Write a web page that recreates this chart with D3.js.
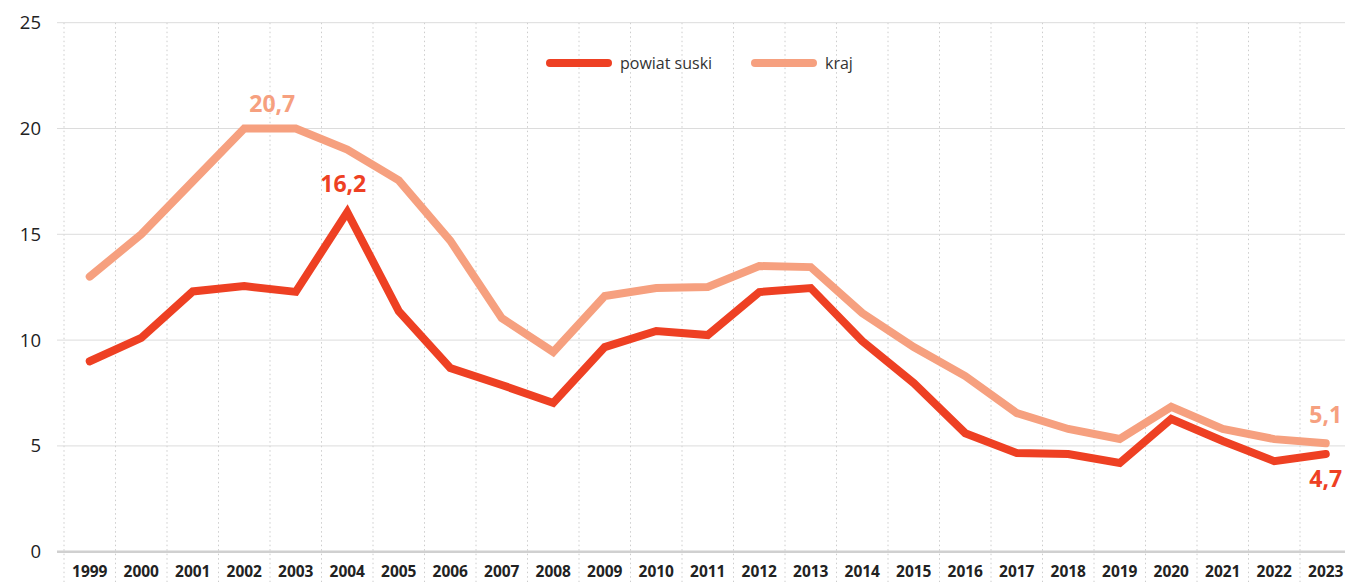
<!DOCTYPE html>
<html>
<head>
<meta charset="utf-8">
<script src="https://cdn.jsdelivr.net/npm/d3@7"></script>
<style>
  html, body { margin:0; padding:0; background:#fff; }
  svg { display:block; font-family:"Open Sans", sans-serif; }
</style>
</head>
<body>
<div class="plot"></div>
<script>
var years = ['1999','2000','2001','2002','2003','2004','2005','2006','2007','2008','2009','2010','2011',
	'2012','2013','2014','2015','2016','2017','2018','2019','2020','2021','2022','2023'];

var powiat = [9.0,10.1,12.3,12.55,12.28,16.05,11.37,8.68,7.88,7.03,9.67,10.43,10.24,
	12.27,12.46,9.95,7.97,5.6,4.66,4.62,4.19,6.27,5.23,4.28,4.62];

var kraj = [13.0,15.0,17.5,20.0,20.0,19.0,17.55,14.7,11.04,9.44,12.08,12.46,12.51,
	13.5,13.45,11.28,9.67,8.3,6.55,5.8,5.33,6.85,5.8,5.32,5.12];

var yTicks = [0,5,10,15,20,25];

var seriesNames = ['powiat suski','kraj'];
var seriesColors = ['#ee4023','#f6a07f'];

// value labels: series index, year, text
var valueLabels = [
	{s:1, year:'2002', text:'20,7'},
	{s:0, year:'2004', text:'16,2'},
	{s:1, year:'2023', text:'5,1'},
	{s:0, year:'2023', text:'4,7'}
];

var W = 1345, H = 582;

var svg = d3.select('.plot')
	.append('svg')
	.attr('width', W)
	.attr('height', H);

var x = d3.scaleBand().domain(years).range([64, 1351.5]);
var y = d3.scaleLinear().domain([0,25]).range([551.7, 22.7]);

// vertical dotted grid at band edges
svg.append('g').selectAll('line')
	.data(years)
	.enter().append('line')
	.attr('x1', d=>x(d)).attr('x2', d=>x(d))
	.attr('y1', y(25)).attr('y2', H)
	.style('stroke','#cccccc')
	.style('stroke-width',1)
	.style('stroke-dasharray','1.5,3');

// horizontal grid
svg.append('g').selectAll('line')
	.data(yTicks)
	.enter().append('line')
	.attr('x1', 57).attr('x2', W)
	.attr('y1', d=>y(d)).attr('y2', d=>y(d))
	.style('stroke', d=> d===0 ? '#d0d0d0' : '#dcdcdc')
	.style('stroke-width', d=> d===0 ? 2.5 : 1);

// y labels
svg.append('g').selectAll('text')
	.data(yTicks)
	.enter().append('text')
	.attr('x', 41)
	.attr('y', d=>y(d))
	.attr('dy','0.35em')
	.attr('text-anchor','end')
	.style('font-size','18.5px')
	.style('fill','#222')
	.text(d=>d);

// x labels
svg.append('g').selectAll('text')
	.data(years)
	.enter().append('text')
	.attr('x', d=>x(d) + x.bandwidth()/2)
	.attr('y', 577)
	.attr('text-anchor','middle')
	.style('font-size','15.5px')
	.style('font-weight','bold')
	.style('fill','#222')
	.text(d=>d);

var line = d3.line()
	.x((d,i)=>x(years[i]) + x.bandwidth()/2)
	.y(d=>y(d));

var series = [powiat, kraj];

// draw kraj first, powiat on top
[1,0].forEach(function(s){
	svg.append('path')
		.datum(series[s])
		.attr('d', line)
		.style('fill','none')
		.style('stroke', seriesColors[s])
		.style('stroke-width', 8)
		.style('stroke-linejoin','miter')
		.style('stroke-linecap','round');
});

// value labels
var labelOffsets = {
	'20,7': {dx:28, y:112},
	'16,2': {dx:-4, y:192},
	'5,1': {dx:0, y:423},
	'4,7': {dx:0, y:487}
};
svg.append('g').selectAll('text')
	.data(valueLabels)
	.enter().append('text')
	.attr('x', d=>x(d.year) + x.bandwidth()/2 + labelOffsets[d.text].dx)
	.attr('y', d=>labelOffsets[d.text].y)
	.attr('text-anchor','middle')
	.style('font-size','23px')
	.style('font-weight','bold')
	.style('fill', d=>seriesColors[d.s])
	.text(d=>d.text);

// legend
var legend = svg.append('g').attr('class','legend');
var legendX = [550, 755];
seriesNames.forEach(function(name, i){
	legend.append('line')
		.attr('x1', legendX[i]).attr('x2', legendX[i] + 58)
		.attr('y1', 63).attr('y2', 63)
		.style('stroke', seriesColors[i])
		.style('stroke-width', 8)
		.style('stroke-linecap','round');
	legend.append('text')
		.attr('x', legendX[i] + 70)
		.attr('y', 69)
		.style('font-size','16px')
		.style('fill','#333')
		.text(name);
});
</script>
</body>
</html>
